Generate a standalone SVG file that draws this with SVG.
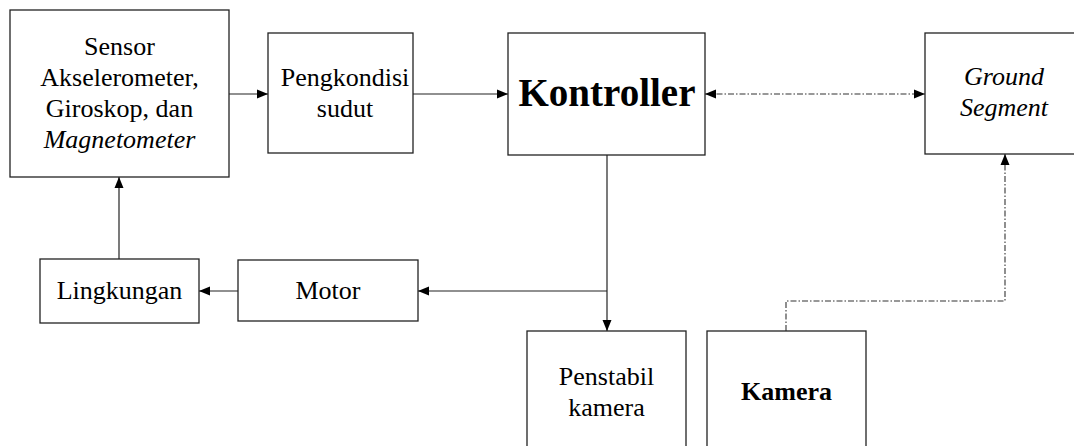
<svg xmlns="http://www.w3.org/2000/svg" width="1074" height="446" viewBox="0 0 1074 446">
  <style>
    .box { fill: #ffffff; stroke: #222222; stroke-width: 1.3; }
    .t { font-family: "Liberation Serif", "Times New Roman", serif; font-size: 26px; fill: #000000; text-anchor: middle; }
    .b { font-weight: bold; }
    .i { font-style: italic; }
    .c { fill: none; stroke: #222222; stroke-width: 1.2; }
    .dd { fill: none; stroke: #333333; stroke-width: 1.1; stroke-dasharray: 6 2 1.5 2; }
  </style>
  <defs>
    <marker id="arr" markerUnits="userSpaceOnUse" markerWidth="12" markerHeight="10" refX="11" refY="5" orient="auto-start-reverse">
      <path d="M0,0.5 L11,5 L0,9.5 z" fill="#000000"/>
    </marker>
  </defs>
  <rect width="1074" height="446" fill="#ffffff"/>

  <g id="connectors">
    <line class="c" x1="229" y1="94" x2="268" y2="94" marker-end="url(#arr)"/>
    <line class="c" x1="413" y1="94" x2="508" y2="94" marker-end="url(#arr)"/>
    <line class="dd" x1="705" y1="94" x2="925" y2="94" marker-start="url(#arr)" marker-end="url(#arr)"/>
    <line class="c" x1="607" y1="155" x2="607" y2="331" marker-end="url(#arr)"/>
    <line class="c" x1="607" y1="291" x2="418" y2="291" marker-end="url(#arr)"/>
    <line class="c" x1="238" y1="291" x2="199" y2="291" marker-end="url(#arr)"/>
    <line class="c" x1="119" y1="259" x2="119" y2="177" marker-end="url(#arr)"/>
    <polyline class="dd" points="786,331 786,301 1005,301 1005,154" marker-end="url(#arr)"/>
  </g>

  <g id="sensor">
    <rect class="box" x="10" y="10" width="219" height="167"/>
    <text class="t" x="119.5" y="55">Sensor</text>
    <text class="t" x="119.5" y="86">Akselerometer,</text>
    <text class="t" x="119.5" y="117">Giroskop, dan</text>
    <text class="t i" x="119.5" y="148">Magnetometer</text>
  </g>

  <g id="pengkondisi">
    <rect class="box" x="268" y="33" width="145" height="120"/>
    <text class="t" x="345" y="86">Pengkondisi</text>
    <text class="t" x="345" y="117">sudut</text>
  </g>

  <g id="kontroller">
    <rect class="box" x="508" y="33" width="197" height="122"/>
    <text class="t b" x="607" y="106" style="font-size:39px">Kontroller</text>
  </g>

  <g id="ground">
    <rect class="box" x="925" y="33" width="160" height="121"/>
    <text class="t i" x="1004" y="85">Ground</text>
    <text class="t i" x="1004" y="116">Segment</text>
  </g>

  <g id="lingkungan">
    <rect class="box" x="40" y="259" width="159" height="64"/>
    <text class="t" x="119.5" y="299">Lingkungan</text>
  </g>

  <g id="motor">
    <rect class="box" x="238" y="260" width="180" height="61"/>
    <text class="t" x="328" y="299">Motor</text>
  </g>

  <g id="penstabil">
    <rect class="box" x="527" y="331" width="159" height="130"/>
    <text class="t" x="606.5" y="385">Penstabil</text>
    <text class="t" x="606.5" y="416">kamera</text>
  </g>

  <g id="kamera">
    <rect class="box" x="707" y="331" width="159" height="130"/>
    <text class="t b" x="786.5" y="400">Kamera</text>
  </g>
</svg>
